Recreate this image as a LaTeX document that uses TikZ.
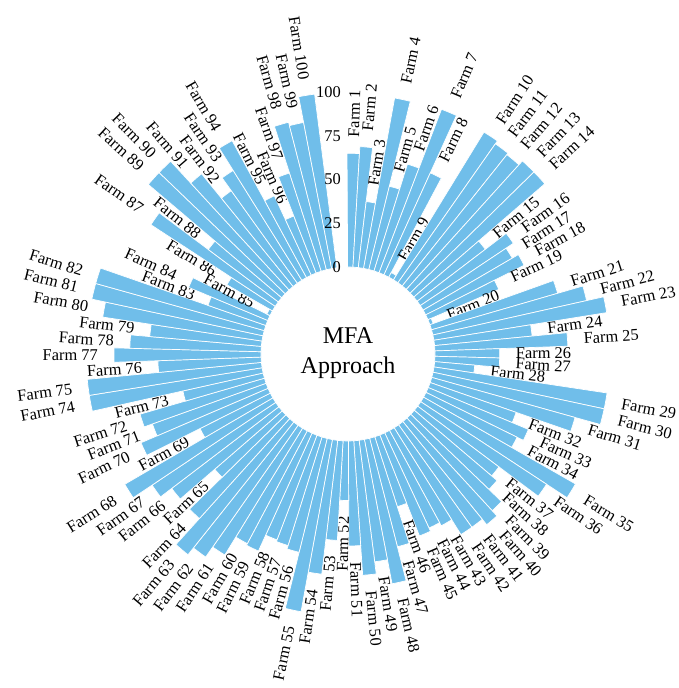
\documentclass[tikz,border=0pt]{standalone}
\usepackage{fontspec}
\setmainfont{Liberation Serif}
\definecolor{barblue}{RGB}{112,190,234}
\begin{document}
\begin{tikzpicture}[x=1pt,y=1pt,
  bar/.style={fill=barblue,draw=white,line width=0.7pt},
  farmlabel/.style={inner sep=0pt,font=\fontsize{16.4}{19}\selectfont},
  ticklabel/.style={inner sep=0pt,anchor=east,font=\fontsize{16.4}{19}\selectfont}]
% page frame, centre of the chart at the origin
\useasboundingbox (-348,-334) rectangle (331,354);
\def\rin{87}
\def\unit{1.75}
\def\slot{3.5294}
% one wedge and one label per farm
\foreach \v [count=\i] in {65,69,38,99,49,64,100,64,3,99,
                           97,96,99,99,49,64,59,63,44,2,
                           75,90,100,56,76,37,37,23,100,100,
                           85,52,62,58,100,86,58,62,72,76,
                           72,72,62,60,62,42,64,84,70,77,
                           60,34,57,77,100,67,65,64,74,73,
                           85,92,97,77,51,77,85,98,45,79,
                           69,74,47,100,100,59,84,75,64,92,
                           100,100,35,49,2,30,85,50,100,100,
                           83,65,74,89,50,35,59,87,85,100}{
  \pgfmathsetmacro{\ph}{90-(1.5+(\i-1)*\slot)}
  \pgfmathsetmacro{\pa}{\ph+\slot/2}
  \pgfmathsetmacro{\pb}{\ph-\slot/2}
  \pgfmathsetmacro{\R}{\rin+\unit*\v}
  \pgfmathsetmacro{\L}{\R+16}
  \draw[bar] (\pa:\rin) arc[start angle=\pa,end angle=\pb,radius=\rin]
    -- (\pb:\R) arc[start angle=\pb,end angle=\pa,radius=\R] -- cycle;
  \ifnum\i<52
    \node[farmlabel,anchor=west,rotate=\ph] (f\i) at (\ph:\L) {Farm \i};
  \else
    \pgfmathsetmacro{\pr}{\ph+180}
    \node[farmlabel,anchor=east,rotate=\pr] (f\i) at (\ph:\L) {Farm \i};
  \fi
}
% radial scale
\foreach \t in {0,25,50,75,100}{
  \node[ticklabel] (t\t) at (-7,{\rin+\unit*\t}) {\t};
}
% centre caption
\node[align=center,inner sep=0pt,font=\fontsize{24}{30}\selectfont] (title) at (0,1) {MFA\\Approach};
\end{tikzpicture}
\end{document}
